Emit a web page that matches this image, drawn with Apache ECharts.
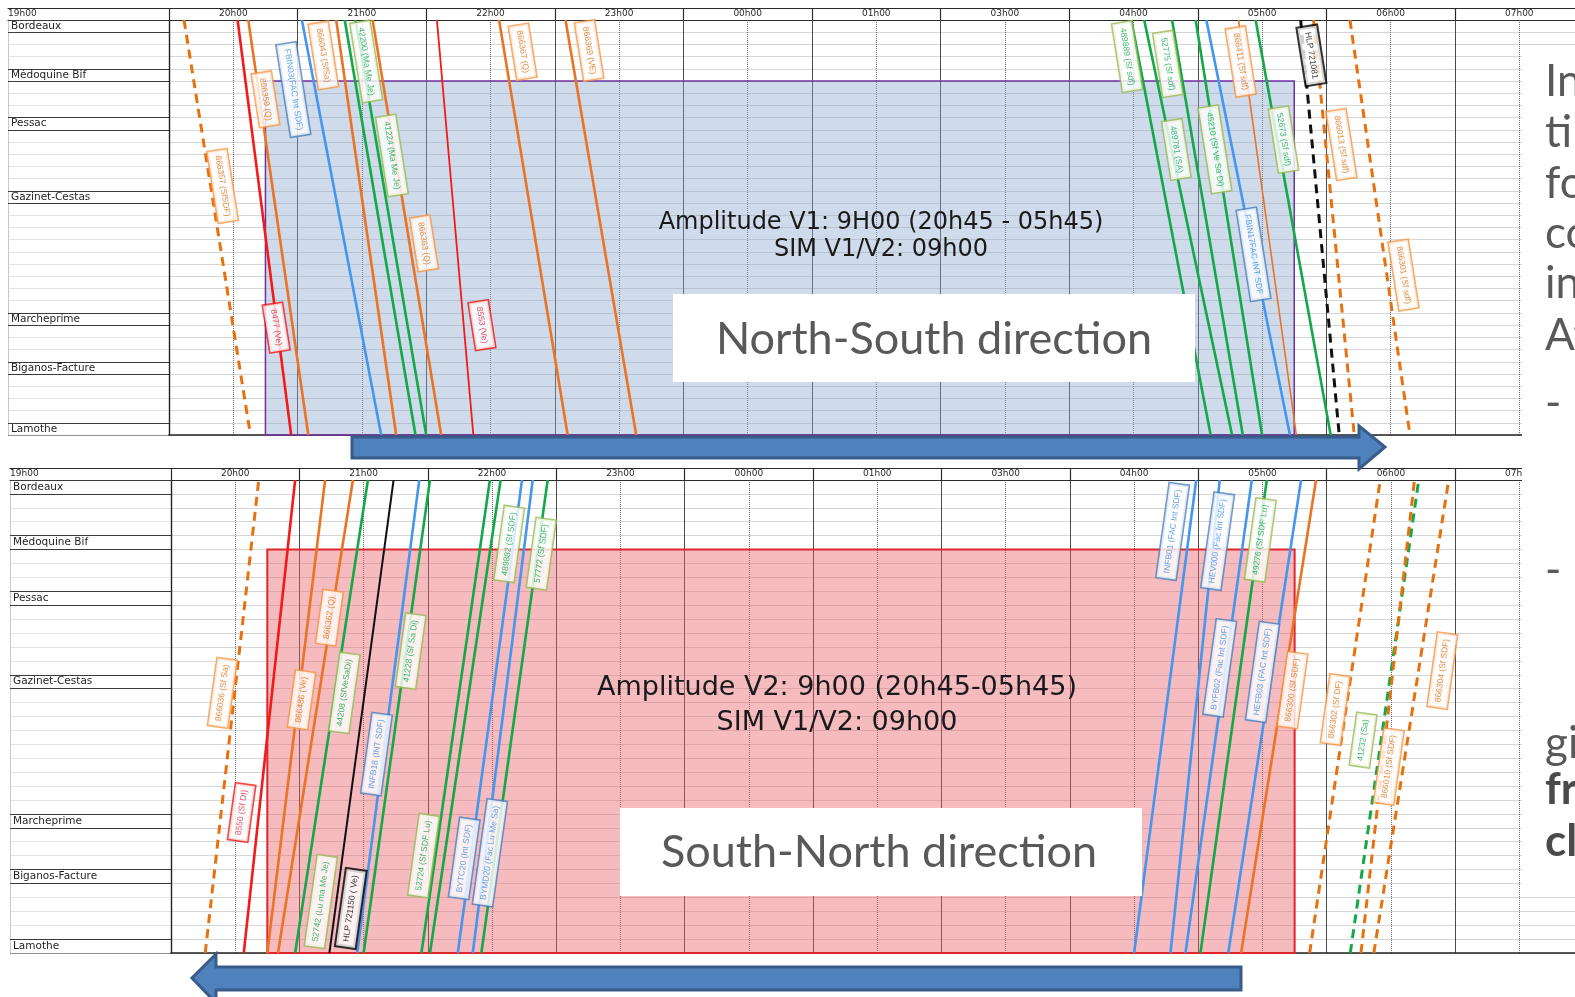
<!DOCTYPE html>
<html>
<head>
<meta charset="utf-8">
<script src="https://cdn.jsdelivr.net/npm/echarts@6/dist/echarts.min.js"></script>
<style>
  html, body { margin: 0; padding: 0; background: #fff; }
  #chart { width: 1575px; height: 997px; }
</style>
</head>
<body>
<div id="chart"></div>
<script>
// time columns of the graph (the sheet has no 02h00 column)
const hourLabels = ['20h00', '21h00', '22h00', '23h00', '00h00', '01h00', '03h00', '04h00', '05h00', '06h00', '07h00'];
const stationNames = ['Bordeaux', 'Médoquine Bif', 'Pessac', 'Gazinet-Cestas', 'Marcheprime', 'Biganos-Facture', 'Lamothe'];
const stationRows = [0, 4, 8, 14, 24, 28, 33];
const rowCount = 34;
const amplitudeWindow = ['20:45', '05:45'];
const amplitudeFromRow = 5;

// North-South: passing time at Bordeaux, then at Lamothe
const nsDepart = ['20:07', '20:32', '20:37', '21:02', '21:18', '21:22', '21:27', '21:35', '22:05', '22:34', '23:05',
  '04:29', '04:35', '04:48', '04:59', '05:04', '05:19', '05:27', '05:48', '05:54', '06:11'];
const nsArrive = ['20:38', '20:57', '21:05', '21:39', '21:46', '21:55', '22:00', '22:07', '22:22', '23:06', '23:38',
  '05:06', '05:16', '05:21', '05:30', '05:43', '05:46', '06:02', '06:06', '06:13', '06:39'];
const nsKind = ['orangeDash', 'red', 'orange', 'blue', 'orange', 'green', 'green', 'orange', 'redThin', 'orange', 'orange',
  'green', 'green', 'green', 'green', 'blue', 'orangeThin', 'green', 'blackDash', 'orangeDash', 'orangeDash'];

const nsLabelText = ['866357 (SfSDF)', '866359 (Q)', 'FBIN03(FAC Int SDF)', '866043 (SfSa)', '42200 (Ma Me Je)', '41224 (Ma Me Je)',
  '866363 (Q)', '8477 (Ve)', '8553 (Ve)', '866367 (Q)', '866369 (VE)', '489889 (Sf sdf)', '52775 (Sf sdf)', '489781 (SA)',
  '45210 (Sf Ve Sa Di)', '866411 (Sf sdf)', '52673 (Sf sdf)', 'HLP 721081', '866013 (Sf sdf)', 'FBIN17FAC INT SDF', '866301 (Sf sdf)'];
const nsLabelTime = ['20:25', '20:45', '20:58', '21:12', '21:32', '21:44', '21:59', '20:50', '22:26', '22:45', '23:16',
  '04:27', '04:46', '04:50', '05:08', '05:20', '05:40', '05:53', '06:07', '05:26', '06:36'];
const nsLabelRow = [13.6, 6.5, 5.7, 2.9, 3.4, 11.1, 18.3, 25.2, 25.0, 2.6, 2.5, 3.0, 3.6, 10.6, 10.6, 3.4, 9.8, 2.9, 10.2, 19.2, 20.9];
const nsLabelKind = ['orange', 'orange', 'blue', 'orange', 'green', 'green', 'orange', 'red', 'red', 'orange', 'orange',
  'green', 'green', 'green', 'green', 'orange', 'green', 'black', 'orange', 'blue', 'orange'];

// South-North: passing time at Lamothe, then at Bordeaux
const snDepart = ['20:16', '20:34', '20:45', '20:50', '20:58', '21:14', '21:27', '21:30', '21:57', '22:01', '22:14', '22:21', '22:25',
  '04:30', '04:47', '04:54', '05:01', '05:14', '05:20', '05:52', '06:11', '06:16', '06:22'];
const snArrive = ['20:41', '20:58', '21:12', '21:25', '21:32', '21:44', '21:56', '22:01', '22:29', '22:34', '22:44', '22:49', '22:56',
  '04:59', '05:10', '05:25', '05:32', '05:48', '05:55', '06:25', '06:43', '06:41', '06:57'];
const snKind = ['orangeDash', 'red', 'orange', 'orange', 'green', 'black', 'blue', 'green', 'green', 'green', 'blue', 'blue', 'green',
  'blue', 'blue', 'blue', 'green', 'blue', 'orange', 'orangeDash', 'greenDash', 'orangeDash', 'orangeDash'];

const snLabelText = ['866036 (Sf Sa)', '8550 (Sf DI)', '866362 (Q)', '866486 (Ve)', '44208 (SfVeSaDi)', '41228 (Sf Sa Di)',
  'INFB18 (INT SDF)', '52742 (Lu ma Me Je)', 'HLP 721150 ( Ve)', '52724 (Sf SDF Lu)', 'BYTC20 (Int SDF)', 'BYMD20 (Fac Lu Me Sa)',
  '489882 (Sf SDF)', '57772 (Sf SDF)', 'INFB01 (FAC Int SDF)', 'HEV000 (Fac Int SDF)', '49276 (Sf SDF Lu)', 'BYFB02 (Fac Int SDF)',
  'HEFB03 (FAC Int SDF)', '866300 (Sf SDF)', '866302 (Sf DF)', '41232 (Sa)', '866010 (Sf SDF)', '866304 (Sf SDF)'];
const snLabelTime = ['20:24', '20:33', '21:14', '21:01', '21:21', '21:52', '21:36', '21:10', '21:24', '21:58', '22:17', '22:29',
  '22:38', '22:53', '04:48', '05:09', '05:29', '05:10', '05:30', '05:44', '06:04', '06:17', '06:29', '06:54'];
const snLabelRow = [15.3, 23.9, 9.9, 15.8, 15.3, 12.3, 19.7, 30.3, 30.8, 27.0, 27.2, 26.8,
  4.6, 5.3, 3.7, 4.4, 4.3, 13.5, 13.8, 15.1, 16.5, 18.7, 20.6, 13.7];
const snLabelKind = ['orange', 'red', 'orange', 'orange', 'green', 'green', 'blue', 'green', 'black', 'green', 'blue', 'blue',
  'green', 'green', 'blue', 'blue', 'green', 'blue', 'blue', 'orange', 'orange', 'green', 'orange', 'orange'];

// ---- styles ----
const LINE = {
  orange: { color: '#EA7424', width: 2.6 },
  orangeThin: { color: '#EA7424', width: 1.6 },
  orangeDash: { color: '#E8710F', width: 3, type: [9, 6] },
  red: { color: '#F41A1A', width: 2.6 },
  redThin: { color: '#F41A1A', width: 1.8 },
  green: { color: '#13A848', width: 2.6 },
  greenDash: { color: '#13A848', width: 3, type: [9, 6] },
  blue: { color: '#4596EE', width: 2.6 },
  black: { color: '#111', width: 2 },
  blackDash: { color: '#111', width: 3, type: [9, 6] },
};
const TAG = {
  orange: { border: '#F79646', text: '#E46C0A' },
  red: { border: '#F01818', text: '#E8203A' },
  green: { border: '#9BBB59', text: '#10A848' },
  blue: { border: '#4F81BD', text: '#3C8FEA' },
  black: { border: '#000', text: '#000' },
};

const toMin = (t) => {
  const [h, m] = t.split(':');
  return hourLabels.indexOf(h + 'h00') * 60 + Number(m);
};
const hourTicks = hourLabels.map((_, i) => i * 60);
const halfHours = hourLabels.map((_, i) => i * 60 + 30);
const rowNames = Array.from({ length: rowCount }, (_, i) => {
  const k = stationRows.indexOf(i);
  return k >= 0 ? stationNames[k] : '';
});

const xAxis = [];
const yAxis = [];
const series = [];
const headFont = { fontSize: 9, color: '#2a2a2a', fontFamily: 'DejaVu Sans' };
const dark = { color: '#2b2b2b', width: 1.2 };

function addPanel(gl, gc, trains, labels, direction, box) {
  const xl = xAxis.length;
  // station column
  xAxis.push({
    gridIndex: gl, type: 'value', min: 0, max: 1, position: 'top',
    axisLine: { onZero: false, lineStyle: dark }, axisTick: { show: false }, splitLine: { show: false },
    axisLabel: { customValues: [0], formatter: () => '19h00', align: 'left', margin: 2, ...headFont },
  });
  xAxis.push({
    gridIndex: gl, type: 'value', min: 0, max: 1, position: 'top', offset: 12,
    axisLine: { onZero: false, lineStyle: dark }, axisTick: { show: false }, axisLabel: { show: false }, splitLine: { show: false },
  });
  // time columns
  const xc = xAxis.length;
  xAxis.push({
    gridIndex: gc, type: 'value', min: 0, max: 656, interval: 10, position: 'top',
    axisLine: { onZero: false, lineStyle: dark },
    axisTick: { customValues: hourTicks, length: 12, lineStyle: dark },
    axisLabel: { customValues: halfHours, formatter: (v) => hourLabels[Math.floor(v / 60)], margin: 2, ...headFont },
    splitLine: { show: true, lineStyle: { color: '#d6d6d6', width: 1 } },
  });
  xAxis.push({
    gridIndex: gc, type: 'value', min: 0, max: 656, position: 'top', offset: 12,
    axisLine: { onZero: false, lineStyle: dark }, axisTick: { show: false }, axisLabel: { show: false }, splitLine: { show: false },
  });
  xAxis.push({
    gridIndex: gc, type: 'value', min: 0, max: 656, interval: 30, position: 'bottom',
    axisLine: { show: false, onZero: false }, axisTick: { show: false }, axisLabel: { show: false },
    splitLine: { show: true, lineStyle: { color: '#6a6a6a', width: 1, type: 'dotted' } },
  });
  xAxis.push({
    gridIndex: gc, type: 'value', min: 0, max: 656, interval: 60, position: 'bottom',
    axisLine: { show: true, onZero: false, lineStyle: { color: '#222', width: 1.5 } }, axisTick: { show: false }, axisLabel: { show: false },
    splitLine: { show: true, lineStyle: { color: '#4a4a4a', width: 1 } },
  });

  const yl = yAxis.length;
  yAxis.push({
    gridIndex: gl, type: 'category', inverse: true, data: rowNames,
    axisLine: { show: true, onZero: false, lineStyle: { color: '#c8c8c8' } }, axisTick: { show: false }, splitLine: { show: false },
    axisLabel: { inside: true, interval: 0, margin: 3, fontSize: 10.5, color: '#1f1f1f', fontFamily: 'DejaVu Sans' },
  });
  yAxis.push({
    gridIndex: gl, type: 'value', inverse: true, min: 0, max: rowCount, interval: 1,
    axisLine: { show: false }, axisTick: { show: false }, axisLabel: { show: false },
    splitLine: { show: true, lineStyle: { color: '#e4e4e4' } },
  });
  const yc = yAxis.length;
  yAxis.push({
    gridIndex: gc, type: 'value', inverse: true, min: 0, max: rowCount, interval: 1,
    axisLine: { show: true, onZero: false, lineStyle: { color: '#222', width: 1.4 } }, axisTick: { show: false }, axisLabel: { show: false },
    splitLine: { show: true, lineStyle: { color: '#d6d6d6' } },
  });

  // station row borders in the name column
  const borders = [];
  stationRows.forEach((r) => {
    borders.push({ coords: [[0, r], [1, r]] });
    borders.push({ coords: [[0, r + 1], [1, r + 1]] });
  });
  series.push({
    type: 'lines', coordinateSystem: 'cartesian2d', xAxisIndex: xl, yAxisIndex: yl + 1, silent: true, z: 2,
    lineStyle: { color: '#3a3a3a', width: 1.2, opacity: 1 }, data: borders,
  });

  // amplitude window
  series.push({
    type: 'line', xAxisIndex: xc, yAxisIndex: yc, data: [], z: 1, silent: true,
    markArea: {
      silent: true,
      itemStyle: box,
      data: [[{ coord: [toMin(amplitudeWindow[0]), amplitudeFromRow] }, { coord: [toMin(amplitudeWindow[1]), rowCount] }]],
    },
  });

  // train paths
  const [from, to] = direction === 'ns' ? [0, rowCount] : [rowCount, 0];
  series.push({
    type: 'lines', coordinateSystem: 'cartesian2d', xAxisIndex: xc, yAxisIndex: yc, silent: true, z: 3,
    data: trains.dep.map((t, i) => ({
      coords: [[toMin(t), from], [toMin(trains.arr[i]), to]],
      lineStyle: { type: 'solid', opacity: 1, ...LINE[trains.kind[i]] },
    })),
  });

  // train tags
  series.push({
    type: 'scatter', xAxisIndex: xc, yAxisIndex: yc, symbolSize: 1, z: 5, silent: true,
    itemStyle: { color: 'rgba(0,0,0,0)' },
    data: labels.text.map((txt, i) => {
      const s = TAG[labels.kind[i]];
      return {
        name: txt,
        value: [toMin(labels.time[i]), labels.row[i]],
        label: {
          show: true, position: 'inside', formatter: '{b}',
          rotate: direction === 'ns' ? -81 : 82,
          color: s.text, borderColor: s.border, borderWidth: labels.kind[i] === 'black' ? 2 : 1.6,
          backgroundColor: '#fff', padding: [5, 5], fontSize: 8.5, fontFamily: 'Liberation Sans',
        },
      };
    }),
  });
}

addPanel(0, 1,
  { dep: nsDepart, arr: nsArrive, kind: nsKind },
  { text: nsLabelText, time: nsLabelTime, row: nsLabelRow, kind: nsLabelKind },
  'ns', { color: 'rgba(140,170,205,0.42)', borderColor: '#7030A0', borderWidth: 1.5 });
addPanel(2, 3,
  { dep: snDepart, arr: snArrive, kind: snKind },
  { text: snLabelText, time: snLabelTime, row: snLabelRow, kind: snLabelKind },
  'sn', { color: 'rgba(232,100,110,0.44)', borderColor: '#E0262C', borderWidth: 2 });

const txt = (x, y, text, font, fill, align) => ({
  type: 'text', x, y, z: 100,
  style: { text, font, fill, align: align || 'center', verticalAlign: 'middle' },
});
const arrowStyle = { fill: '#4F81BD', stroke: '#385D8A', lineWidth: 3 };

const graphics = [
  txt(881, 223, 'Amplitude V1: 9H00 (20h45 - 05h45)', '24px "DejaVu Sans"', '#1a1a1a'),
  txt(881, 250, 'SIM V1/V2: 09h00', '24px "DejaVu Sans"', '#1a1a1a'),
  { type: 'rect', z: 100, shape: { x: 673, y: 294, width: 522, height: 88 }, style: { fill: '#fff' } },
  txt(934, 339, 'North-South direction', '45px Lato', '#595959'),
  txt(837, 688, 'Amplitude V2: 9h00 (20h45-05h45)', '27px "DejaVu Sans"', '#1a1a1a'),
  txt(837, 723, 'SIM V1/V2: 09h00', '27px "DejaVu Sans"', '#1a1a1a'),
  { type: 'rect', z: 100, shape: { x: 620, y: 808, width: 522, height: 88 }, style: { fill: '#fff' } },
  txt(879, 852, 'South-North direction', '45px Lato', '#595959'),
  { type: 'polygon', z: 100, shape: { points: [[352, 437], [1359, 437], [1359, 426], [1385, 447], [1359, 469], [1359, 458], [352, 458]] }, style: arrowStyle },
  { type: 'polygon', z: 100, shape: { points: [[1241, 967], [216, 967], [216, 954], [192, 978], [216, 1003], [216, 990], [1241, 990]] }, style: arrowStyle },
  { type: 'rect', z: 100, shape: { x: 1522, y: 48, width: 60, height: 836 }, style: { fill: '#fff' } },
];
[['In', 82], ['ti', 133], ['fo', 184], ['co', 234], ['in', 284], ['At', 336], ['-', 404], ['-', 571], ['gi', 744]]
  .forEach(([t, y]) => graphics.push(txt(1545, y, t, '44px Lato', '#595959', 'left')));
[['fr', 790], ['cl', 842]]
  .forEach(([t, y]) => graphics.push(txt(1545, y, t, 'bold 44px Lato', '#4a4a4a', 'left')));

const gridBase = { outerBoundsMode: 'none', containLabel: false };
const chart = echarts.init(document.getElementById('chart'));
chart.setOption({
  animation: false,
  grid: [
    { ...gridBase, left: 8, top: 20, width: 161, height: 415 },
    { ...gridBase, left: 169, top: 20, width: 1406, height: 415 },
    { ...gridBase, left: 10, top: 480, width: 161, height: 473 },
    { ...gridBase, left: 171, top: 480, width: 1404, height: 473 },
  ],
  xAxis,
  yAxis,
  series,
  graphic: { elements: graphics },
});
</script>
</body>
</html>
